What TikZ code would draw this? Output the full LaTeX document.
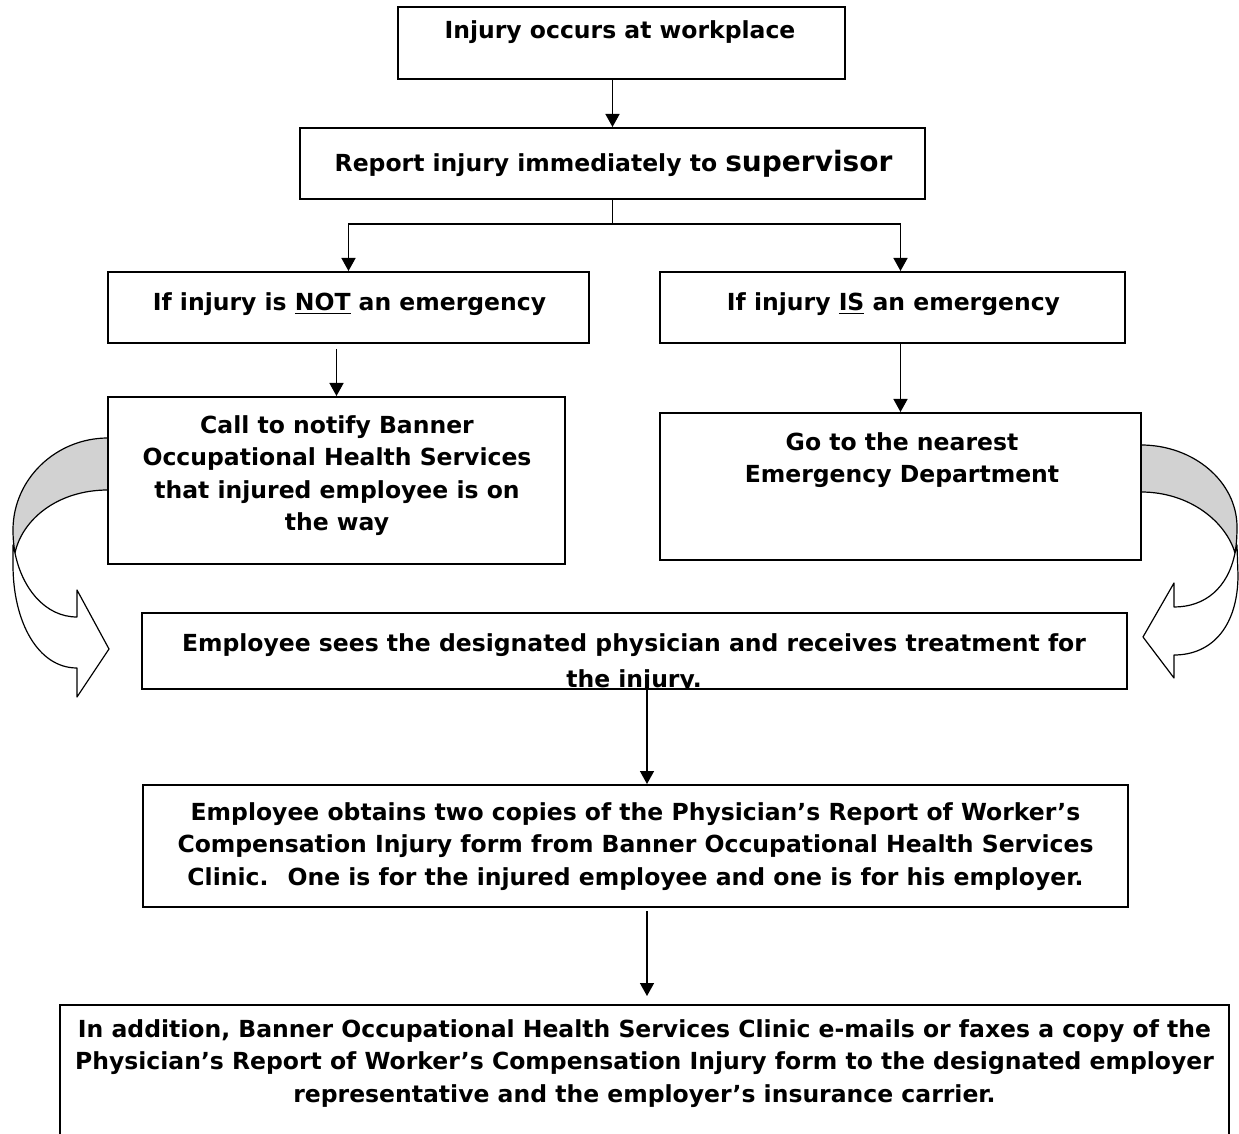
\documentclass[tikz,border=0pt]{standalone}
\usepackage{fontspec}
\setmainfont{DejaVu Sans}
\usetikzlibrary{arrows.meta,positioning,fit,calc}

\tikzset{
  box/.style={draw, line width=1pt, fill=white, inner sep=0pt},
  boxtext/.style={anchor=north, inner sep=0pt, align=center, font=\fontsize{11.75}{16.25}\selectfont\bfseries},
  arr/.style={line width=0.75pt, -{Triangle[length=6.5pt,width=7pt]}},
  curvearrow/.style={line width=0.6pt, line join=round}
}

\begin{document}
\begin{tikzpicture}[x=0.5pt, y=-0.5pt]
\useasboundingbox (0,0) rectangle (1239,1134);
\clip (0,0) rectangle (1239,1134);

% Curved arrows into the treatment box
\filldraw[curvearrow, fill=gray!35] (108,438) .. controls (56,438) and (13,479) .. (13,530) .. controls (13,540) and (14,547) .. (15,553) .. controls (22,520) and (57,490) .. (108,490) -- cycle;
\filldraw[curvearrow, fill=white] (15,553) .. controls (22,588) and (45,617) .. (77,617) -- (77,590) -- (109,649) -- (77,697) -- (77,668) .. controls (38,668) and (13,622) .. (13,565) -- (13,545) -- cycle;

\filldraw[curvearrow, fill=gray!35] (1141,445) .. controls (1194,445) and (1237,482) .. (1237,527) .. controls (1237,540) and (1236,547) .. (1235,553) .. controls (1226,522) and (1190,492) .. (1141,492) -- cycle;
\filldraw[curvearrow, fill=white] (1235,553) .. controls (1228,588) and (1205,607) .. (1174,607) -- (1174,583) -- (1143,637) -- (1174,678) -- (1174,655) .. controls (1213,655) and (1238,625) .. (1238,575) -- (1237,545) -- cycle;

% Boxes
\node[box, fit={(398,7) (845,79)}] (injury) {};
\node[box, fit={(300,128) (925,199)}] (report) {};
\node[box, fit={(108,272) (589,343)}] (notemerg) {};
\node[box, fit={(660,272) (1125,343)}] (emerg) {};
\node[box, fit={(108,397) (565,564)}] (callbanner) {};
\node[box, fit={(660,413) (1141,560)}] (nearest) {};
\node[box, fit={(142,613) (1127,689)}] (physician) {};
\node[box, fit={(143,785) (1128,907)}] (copies) {};
\node[box, fit={(60,1005) (1229,1160)}] (addition) {};

% Texts
\node[boxtext] (injury-t) at (620,20) {Injury occurs at workplace};
\node[boxtext] (report-t) at (613.5,149.6) {Report injury immediately to {\fontsize{14}{16}\selectfont supervisor}};
\node[boxtext] (notemerg-t) at (349.5,292) {If injury is \underline{NOT} an emergency};
\node[boxtext] (emerg-t) at (893.5,292) {If injury \underline{IS} an emergency};
\node[boxtext] (callbanner-t) at (337,415) {Call to notify Banner\\Occupational Health Services\\that injured employee is on\\the way};
\node[boxtext] (nearest-t) at (902,432) {Go to the nearest\\Emergency Department};
\begin{scope}
\clip (142,613) rectangle (1127,688);
\node[boxtext, font=\fontsize{11.75}{18}\selectfont\bfseries] (physician-t) at (634,633) {Employee sees the designated physician and receives treatment for\\the injury.};
\end{scope}
\node[boxtext] (copies-t) at (635.5,802) {Employee obtains two copies of the Physician’s Report of Worker’s\\Compensation Injury form from Banner Occupational Health Services\\Clinic.~ One is for the injured employee and one is for his employer.};
\node[boxtext] (addition-t) at (644.5,1019) {In addition, Banner Occupational Health Services Clinic e-mails or faxes a copy of the\\Physician’s Report of Worker’s Compensation Injury form to the designated employer\\representative and the employer’s insurance carrier.};

% Connectors
\draw[arr] (injury.south -| report.north) -- (report.north);
\draw (report.south) -- ++(0,24) coordinate (split);
\draw[arr] (split) -| (notemerg.north);
\draw[arr] (split) -| (nearest.north |- emerg.north);
\draw[arr] ([yshift=-2.5pt]notemerg.south -| callbanner.north) -- (callbanner.north);
\draw[arr] (emerg.south -| nearest.north) -- (nearest.north);
\coordinate (mid) at (647,0);
\draw[arr] (physician.south -| mid) -- (copies.north -| mid);
\draw[arr, shorten <=1.5pt, shorten >=4pt] (copies.south -| mid) -- (addition.north -| mid);

\end{tikzpicture}
\end{document}
